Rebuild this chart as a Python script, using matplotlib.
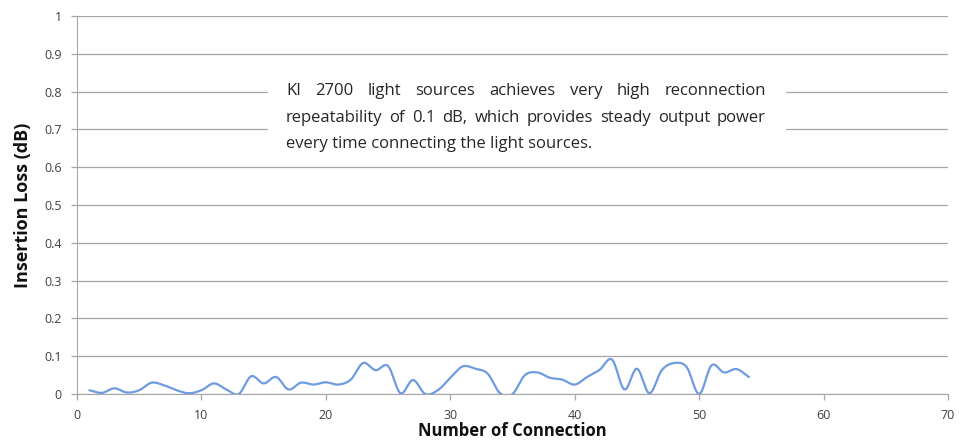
import numpy as np
import matplotlib
matplotlib.use("Agg")
import matplotlib.pyplot as plt

# connection number vs insertion loss (dB)
connection = list(range(1, 55))
loss = [0.010, 0.003, 0.015, 0.004, 0.010, 0.030, 0.023, 0.010, 0.002, 0.010,
        0.028, 0.012, 0.000, 0.047, 0.028, 0.045, 0.012, 0.030, 0.025, 0.031,
        0.025, 0.038, 0.082, 0.063, 0.074, 0.002, 0.037, 0.000, 0.010, 0.043,
        0.073, 0.067, 0.054, 0.002, 0.000, 0.050, 0.057, 0.043, 0.038, 0.025,
        0.045, 0.064, 0.091, 0.012, 0.067, 0.002, 0.063, 0.082, 0.071, 0.000,
        0.076, 0.057, 0.066, 0.045]

note_lines = ["KI 2700 light sources achieves very high reconnection",
              "repeatability of 0.1 dB, which provides steady output power",
              "every time connecting the light sources."]

plt.rcParams['font.family'] = ['Open Sans', 'DejaVu Sans']


def smooth(x, y, n=12):
    # catmull-rom curve through the points, like Excel's smoothed line
    x = np.asarray(x, float)
    y = np.asarray(y, float)
    px = np.concatenate([[2 * x[0] - x[1]], x, [2 * x[-1] - x[-2]]])
    py = np.concatenate([[2 * y[0] - y[1]], y, [2 * y[-1] - y[-2]]])
    t = np.linspace(0, 1, n, endpoint=False)
    xs, ys = [], []
    for i in range(1, len(px) - 2):
        for p, out in ((px, xs), (py, ys)):
            p0, p1, p2, p3 = p[i - 1], p[i], p[i + 1], p[i + 2]
            out.extend(0.5 * (2 * p1 + (-p0 + p2) * t
                              + (2 * p0 - 5 * p1 + 4 * p2 - p3) * t ** 2
                              + (-p0 + 3 * p1 - 3 * p2 + p3) * t ** 3))
    xs.append(x[-1])
    ys.append(y[-1])
    return np.array(xs), np.array(ys)


fig = plt.figure(figsize=(9.6, 4.42), dpi=100)
ax = fig.add_axes([77 / 960, 1 - 394 / 442, 871 / 960, 378 / 442])

sx, sy = smooth(connection, loss)
ax.plot(sx, sy, color="#6f9be0", lw=1.6, solid_capstyle="round", zorder=3)

ax.set_xlim(0, 70)
ax.set_ylim(0, 1)
ax.set_xticks(range(0, 71, 10))
ax.set_yticks(np.round(np.arange(0, 1.01, 0.1), 1))
ax.set_yticklabels([f"{v:g}" for v in np.round(np.arange(0, 1.01, 0.1), 1)])
ax.grid(axis="y", color="#a6a6a6", lw=0.9)
ax.set_axisbelow(True)
for s in ["top", "right"]:
    ax.spines[s].set_visible(False)
for s in ["left", "bottom"]:
    ax.spines[s].set_color("#a6a6a6")
ax.tick_params(colors="#a6a6a6", labelcolor="#404040", labelsize=9,
               length=4, width=0.9)
ax.tick_params(axis="x", pad=7)
ax.tick_params(axis="y", pad=7)
ax.set_xlabel("Number of Connection", fontsize=12, fontweight="bold",
              color="#111111", labelpad=0)
ax.set_ylabel("Insertion Loss (dB)", fontsize=13, fontweight="bold",
              color="#111111", labelpad=9)

# white box behind the note
box = plt.Rectangle((268 / 960, 1 - 155 / 442), (785 - 268) / 960, 85 / 442,
                    transform=fig.transFigure, color="white", zorder=5)
fig.patches.append(box)

# justified paragraph: spread words of full lines between left and right edges
left, right = 286, 766
baselines = [95, 122, 148]
fs = 12
fig.canvas.draw()
r = fig.canvas.get_renderer()
for k, line in enumerate(note_lines):
    words = line.split(" ")
    y = 1 - baselines[k] / 442
    if k == len(note_lines) - 1:
        fig.text(left / 960, y, line, fontsize=fs, color="#262626",
                 va="baseline", zorder=6)
        continue
    objs = [fig.text(0, y, w, fontsize=fs, color="#262626",
                     va="baseline", zorder=6) for w in words]
    widths = [o.get_window_extent(r).width for o in objs]
    gap = (right - left - sum(widths)) / (len(words) - 1)
    xpos = left
    for o, w in zip(objs, widths):
        o.set_x(xpos / 960)
        xpos += w + gap

fig.savefig("out.png", dpi=100)
